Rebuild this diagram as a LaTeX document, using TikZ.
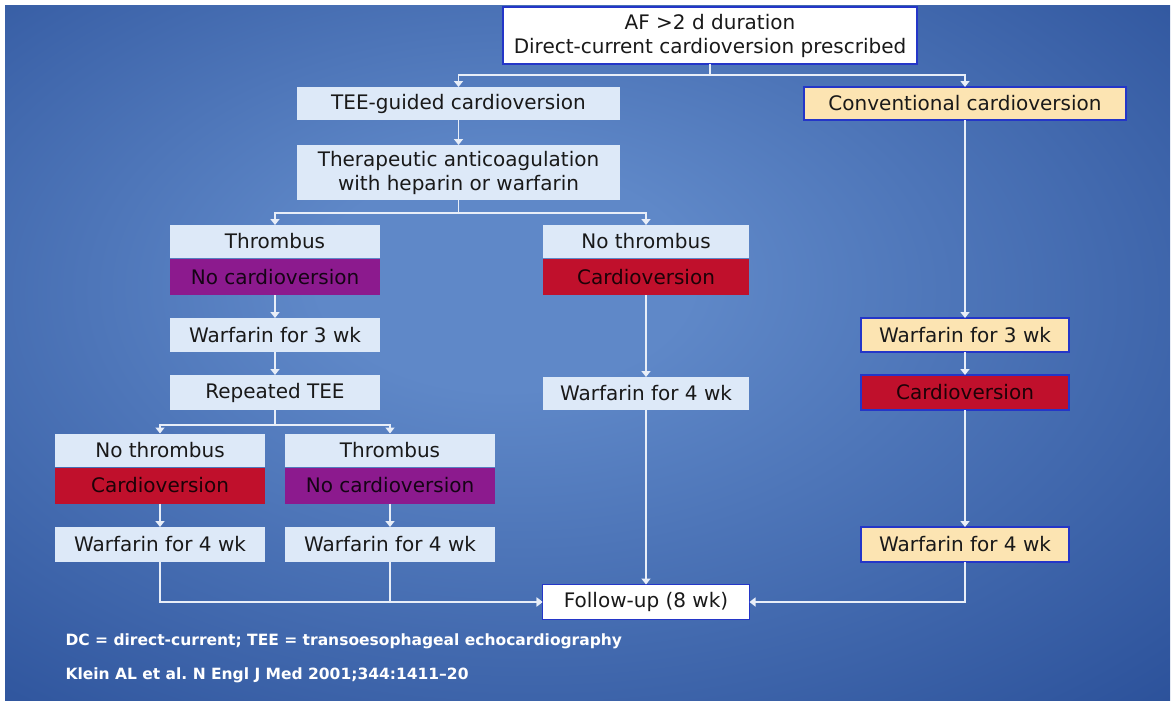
\documentclass[tikz,border=0pt]{standalone}
\usepackage{fontspec}
\setmainfont{DejaVu Sans}
\usepackage{tikz}
\usetikzlibrary{arrows.meta,positioning}

\definecolor{bgdark}{HTML}{204590}
\definecolor{bgdeep}{HTML}{163679}
\definecolor{bglight}{HTML}{5F88C8}
\definecolor{paleblue}{HTML}{DDE9F8}
\definecolor{paleorange}{HTML}{FCE4B2}
\definecolor{cvred}{HTML}{C0102C}
\definecolor{cvpurple}{HTML}{8C1A8E}
\definecolor{edgeblue}{HTML}{2436C8}
\definecolor{linewhite}{HTML}{E8EEF8}

\pgfdeclareradialshading{slidebg}{\pgfpoint{-4bp}{6bp}}{color(0bp)=(bglight); color(8bp)=(bglight); color(46bp)=(bgdark); color(72bp)=(bgdeep)}

\begin{document}
\begin{tikzpicture}[
  x=1pt, y=-1pt,
  box/.style={minimum width=210pt, minimum height=33pt, inner sep=0pt, outer sep=0pt, align=center, font=\fontsize{20}{24}\selectfont, text=black!90},
  pale/.style={box, fill=paleblue},
  peach/.style={box, fill=paleorange, draw=edgeblue, line width=1.2pt},
  redbox/.style={box, fill=cvred, minimum height=36pt, text=cvred!15!black},
  purplebox/.style={box, fill=cvpurple, minimum height=36pt, text=cvpurple!15!black},
  plain/.style={box, fill=white, draw=edgeblue, line width=1.2pt},
  note/.style={anchor=west, text=white, font=\fontsize{15.5}{19}\selectfont\bfseries},
  arr/.style={-{Triangle[length=6pt,width=9pt]}, draw=linewhite, line width=1.6pt}]
% slide background
\fill[white] (0,0) rectangle (1175,704);
\shade[shading=slidebg] (5,5) rectangle (1170,700);

\node[plain, minimum width=414pt, minimum height=57pt] (start) at (710,35.5) {AF >2 d duration\\Direct-current cardioversion prescribed};
\node[pale, minimum width=323pt] (teecv) at (458.5,103.5) {TEE-guided cardioversion};
\node[peach, minimum width=322pt] (convcv) at (965,103.5) {Conventional cardioversion};
\node[pale, minimum width=323pt, minimum height=55pt] (anticoag) at (458.5,172.5) {Therapeutic anticoagulation\\with heparin or warfarin};

% TEE branch
\node[pale] (thromA) at (275,241.5) {Thrombus};
\node[purplebox, below=1pt of thromA] (nocvA) {No cardioversion};
\node[pale, minimum width=206pt] (clearA) at (646,241.5) {No thrombus};
\node[redbox, minimum width=206pt, below=1pt of clearA] (cvA) {Cardioversion};
\node[pale, minimum height=34pt] (warfA) at (275,335) {Warfarin for 3 wk};
\node[pale, minimum height=35pt] (repeat) at (275,392.5) {Repeated TEE};
\node[pale] (clearB) at (160,450) {No thrombus};
\node[redbox, below=1pt of clearB] (cvB) {Cardioversion};
\node[pale] (thromB) at (390,450) {Thrombus};
\node[purplebox, below=1pt of thromB] (nocvB) {No cardioversion};
\node[pale, minimum height=35pt] (warfB) at (160,544.5) {Warfarin for 4 wk};
\node[pale, minimum height=35pt] (warfC) at (390,544.5) {Warfarin for 4 wk};
\node[pale, minimum width=206pt] (warfD) at (646,393.5) {Warfarin for 4 wk};
\node[plain, minimum width=207pt, minimum height=35pt] (followup) at (646,602) {Follow-up (8 wk)};

% conventional branch
\node[peach, minimum width=208pt, minimum height=34pt] (warfE) at (965,335) {Warfarin for 3 wk};
\node[redbox, draw=edgeblue, line width=1.2pt, minimum width=208pt, minimum height=35pt] (cvC) at (965,392.5) {Cardioversion};
\node[peach, minimum width=208pt, minimum height=35pt] (warfF) at (965,544.5) {Warfarin for 4 wk};

\node[note] (abbrev) at (62,641) {DC = direct-current; TEE = transoesophageal echocardiography};
\node[note] (source) at (62,675) {Klein AL et al.\ N Engl J Med 2001;344:1411–20};

\draw[arr] (start.south) -- ++(0,11) -| (teecv.north);
\draw[arr] (start.south) -- ++(0,11) -| (convcv.north);
\draw[arr] (teecv) -- (anticoag);
\draw[arr] (anticoag.south) -- ++(0,13) -| (thromA.north);
\draw[arr] (anticoag.south) -- ++(0,13) -| (clearA.north);
\draw[arr] (nocvA) -- (warfA);
\draw[arr] (warfA) -- (repeat);
\draw[arr] (repeat.south) -- ++(0,15) -| (clearB.north);
\draw[arr] (repeat.south) -- ++(0,15) -| (thromB.north);
\draw[arr] (cvB) -- (warfB);
\draw[arr] (nocvB) -- (warfC);
\draw[arr] (warfB.south) |- (followup.west);
\draw[arr] (warfC.south) |- (followup.west);
\draw[arr] (cvA) -- (warfD);
\draw[arr] (warfD) -- (followup);
\draw[arr] (convcv) -- (warfE);
\draw[arr] (warfE) -- (cvC);
\draw[arr] (cvC) -- (warfF);
\draw[arr] (warfF.south) |- (followup.east);
\end{tikzpicture}
\end{document}
